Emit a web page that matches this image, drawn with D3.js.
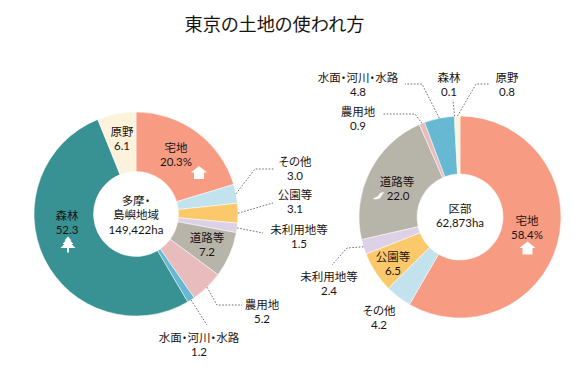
<!DOCTYPE html>
<html lang="ja"><head><meta charset="utf-8">
<script src="https://cdnjs.cloudflare.com/ajax/libs/d3/7.8.5/d3.min.js"></script>
<style>html,body{margin:0;padding:0;background:#fff}svg{display:block}
text{font-family:Lato,"Noto Sans CJK JP",sans-serif;font-feature-settings:"palt";fill:#1a1311;text-anchor:middle;dominant-baseline:central}</style>
</head><body><svg id="c" width="578" height="373"></svg>
<script>
const categories = ["宅地","その他","公園等","未利用地等","道路等","農用地","水面・河川・水路","森林","原野"];
const tamaValues = [20.3,3.0,3.1,1.5,7.2,5.2,1.2,52.3,6.1];
const kubuValues = [58.4,4.2,6.5,2.4,22.0,0.9,4.8,0.1,0.8];
const tamaLabels = ["20.3%","3.0","3.1","1.5","7.2","5.2","1.2","52.3","6.1"];
const kubuLabels = ["58.4%","4.2","6.5","2.4","22.0","0.9","4.8","0.1","0.8"];
const colors = ["#F79C82","#C2E3ED","#FBC96C","#DCD1E6","#B7B5A9","#E8BCBC","#66B8D3","#389192","#FDF3DD"];
const tamaCenter = ["多摩・","島嶼地域","149,422ha"];
const kubuCenter = ["区部","62,873ha"];
const title = "東京の土地の使われ方";

// layout: label centres [x,y] of the name line, per category
const tamaPos = [[176,147],[295,161],[295,194],[299,229],[207,237],[262,304],[199,337],[67,215],[122,131]];
const kubuPos = [[527,220],[379,310],[393,256],[329,276],[397,181],[358,111],[358,77],[449,77],[507,77]];
// leader routes (after the start point on the ring), by category index
const tamaLead = {1:[[255,169],[275,169]],2:[[273,203]],3:[[263,233]],5:[[217,305],[242,305]],6:[[207,325]]};
const kubuLead = {3:[[347,248],[332,265]],5:[[415,114],[383,114]],6:[[422,84],[405,84]],7:[[453,100]],8:[[476,84],[489,84]]};

const svg = d3.select("#c");
svg.append("text").attr("x",274.5).attr("y",24).attr("font-size",18.2).attr("font-weight",400).text(title);

const pie = d3.pie().sort(null).value(d=>d);
function donut(vals,labels,pos,lead,cx,cy,R,r,center,centerY){
  const g = svg.append("g");
  const arc = d3.arc().innerRadius(r).outerRadius(R);
  const arcs = pie(vals);
  g.selectAll("path.s").data(arcs).join("path").attr("class","s")
    .attr("transform",`translate(${cx},${cy})`)
    .attr("d",arc).attr("fill",(d,i)=>colors[i]).attr("stroke","#fff").attr("stroke-width",0.5);
  const edge = d3.arc().innerRadius(R-1).outerRadius(R+1);
  Object.keys(lead).forEach(key=>{
    const i=+key, c=edge.centroid(arcs[i]);
    const pts=[[cx+c[0],cy+c[1]],...lead[key]];
    svg.append("path").attr("d",d3.line()(pts)).attr("fill","none").attr("stroke","#6f6f6f")
      .attr("stroke-width",1).attr("stroke-dasharray","1.6 1.6");
  });
  categories.forEach((name,i)=>{
    svg.append("text").attr("x",pos[i][0]).attr("y",pos[i][1]).attr("font-size",11.5).text(name);
    svg.append("text").attr("x",pos[i][0]+(labels[i]==="22.0"?1:0)).attr("y",pos[i][1]+14).attr("font-size",11.5).text(labels[i]);
  });
  center.forEach((t,i)=>svg.append("text").attr("x",cx).attr("y",centerY+i*14.5).attr("font-size",11.5).text(t));
}
donut(tamaValues,tamaLabels,tamaPos,tamaLead,136,214,102,42.5,tamaCenter,200);
donut(kubuValues,kubuLabels,kubuPos,kubuLead,460,217,101,43,kubuCenter,208);

function house(x,y){svg.append("path").attr("transform",`translate(${x},${y})`).attr("fill","#fff")
  .attr("d","M0,-6.5L8,0H5V6.5H-5V0H-8Z");}
function tree(x,y){svg.append("path").attr("transform",`translate(${x},${y})`).attr("fill","#fff")
  .attr("d","M0,-8L3.5,-4H2.2L5.5,-0.5H3.5L7.5,3.5H1V8H-1V3.5H-7.5L-3.5,-0.5H-5.5L-2.2,-4H-3.5Z");}
house(199,172.5); house(527.5,248); tree(68,244.5);
svg.append("path").attr("transform","translate(378.5,195.5) scale(0.62)").attr("fill","#fff")
  .attr("d","M-9,6C-6,2 -2,3 0,0C1,-3 3,-5 6,-5L9,-6C7,-2 6,-1 4,2C3,5 -1,6 -4,6Z");
</script></body></html>
